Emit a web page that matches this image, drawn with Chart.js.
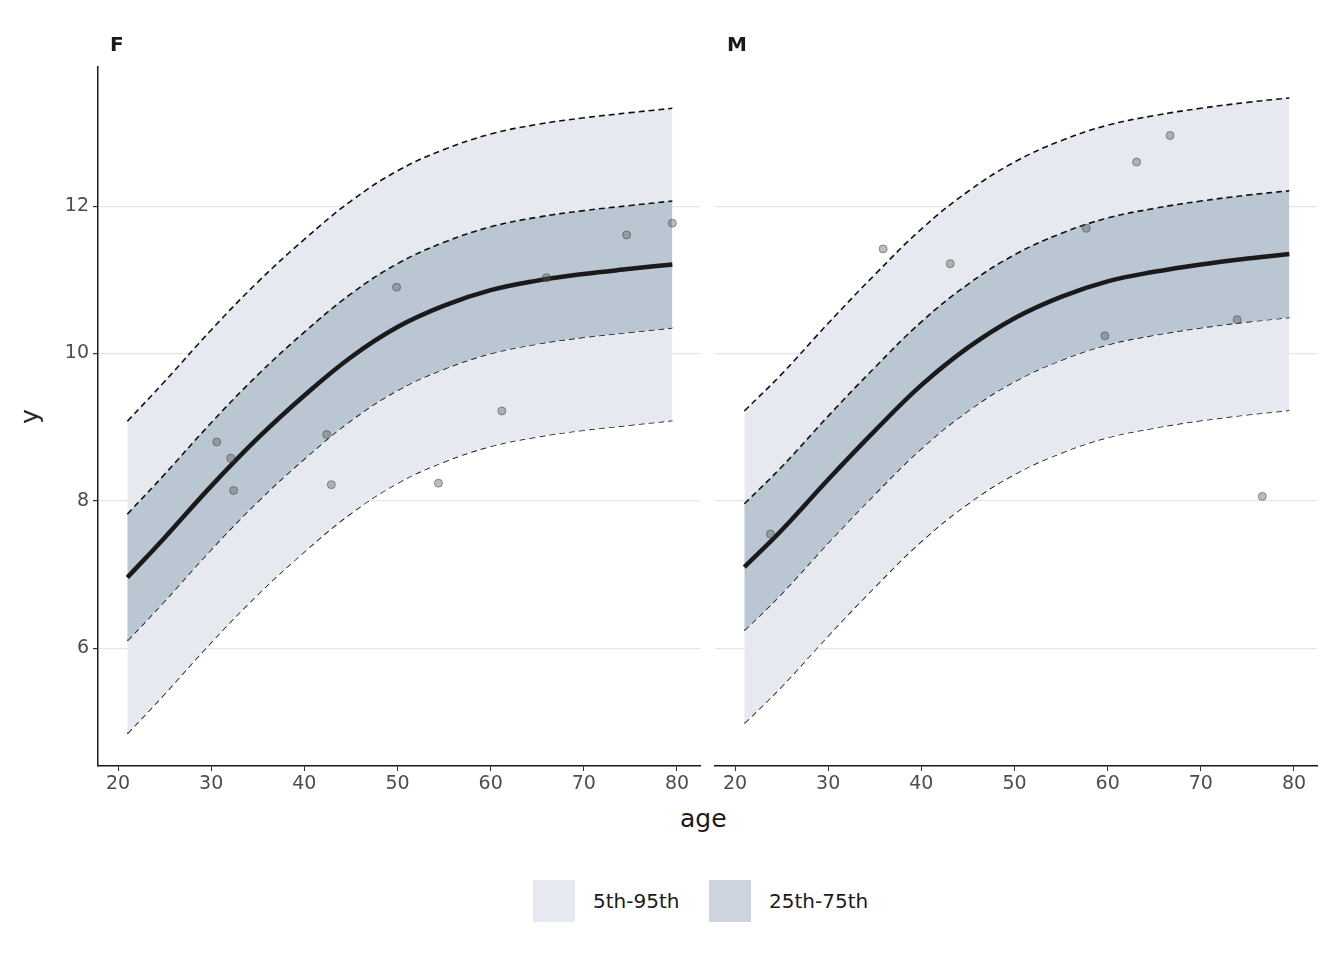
<!DOCTYPE html>
<html><head><meta charset="utf-8">
<script src="https://cdn.jsdelivr.net/npm/chart.js@4/dist/chart.umd.min.js"></script>
<style>
body{margin:0;width:1344px;height:960px;background:#fff;font-family:"DejaVu Sans",sans-serif;position:relative;overflow:hidden}
.t{position:absolute;font-weight:bold;font-size:20px;color:#1a1a1a}
.leg{position:absolute;top:880px;height:42px;display:flex;align-items:center;font-size:20px;color:#1a1a1a}
.sw{width:42px;height:42px;display:inline-block;margin-right:18px}
</style></head><body>
<div style="position:absolute;left:0;top:0;width:705px;height:800px"><canvas id="cF"></canvas></div>
<div style="position:absolute;left:710px;top:0;width:634px;height:800px"><canvas id="cM"></canvas></div>
<div class="t" style="left:110px;top:32px">F</div>
<div class="t" style="left:727px;top:32px">M</div>
<div style="position:absolute;left:680px;top:804px;font-size:25px;color:#1a1a1a">age</div>
<div style="position:absolute;left:22px;top:402px;font-size:25px;color:#1a1a1a;transform:rotate(-90deg);transform-origin:center">y</div>
<div class="leg" style="left:533px"><span class="sw" style="background:#e6e9ef"></span>5th-95th</div>
<div class="leg" style="left:709px"><span class="sw" style="background:#cdd4de"></span>25th-75th</div>
<script>
const ages = [21,25,30,35,40,45,50,55,60,65,70,75,79.5];
const xTicks = [20,30,40,50,60,70,80];
const yTicks = [6,8,10,12];
// Female
const F_q05 = [4.84,5.38,6.08,6.73,7.31,7.83,8.24,8.53,8.74,8.87,8.96,9.03,9.09];
const F_q25 = [6.10,6.64,7.34,7.99,8.57,9.09,9.50,9.79,10.00,10.13,10.22,10.29,10.35];
const F_q50 = [6.96,7.50,8.20,8.85,9.43,9.95,10.36,10.65,10.86,10.99,11.08,11.15,11.21];
const F_q75 = [7.82,8.36,9.06,9.71,10.29,10.81,11.22,11.51,11.72,11.85,11.94,12.01,12.07];
const F_q95 = [9.08,9.62,10.32,10.97,11.55,12.07,12.48,12.77,12.98,13.11,13.20,13.27,13.33];
const F_px = [30.6,32.1,32.4,42.4,42.9,49.9,54.4,61.2,66.0,74.6,79.5];
const F_py = [8.80,8.58,8.14,8.90,8.22,10.90,8.24,9.22,11.03,11.61,11.77];
// Male
const M_q05 = [4.98,5.48,6.17,6.83,7.45,7.96,8.36,8.65,8.86,8.99,9.09,9.17,9.23];
const M_q25 = [6.24,6.74,7.43,8.09,8.71,9.22,9.62,9.91,10.12,10.25,10.35,10.43,10.49];
const M_q50 = [7.10,7.60,8.29,8.95,9.57,10.08,10.48,10.77,10.98,11.11,11.21,11.29,11.35];
const M_q75 = [7.96,8.46,9.15,9.81,10.43,10.94,11.34,11.63,11.84,11.97,12.07,12.15,12.21];
const M_q95 = [9.22,9.72,10.41,11.07,11.69,12.20,12.60,12.89,13.10,13.23,13.33,13.41,13.47];
const M_px = [23.8,35.9,43.1,57.7,59.7,63.1,66.7,73.9,76.6];
const M_py = [7.55,11.42,11.22,11.70,10.24,12.60,12.96,10.46,8.06];

const pts = (xs,ys)=>xs.map((x,i)=>({x,y:ys[i]}));
function make(id,q05,q25,q50,q75,q95,px,py,left){
  const dash={borderColor:'#111',borderWidth:1.6,borderDash:[6,4],pointRadius:0,tension:0.4};
  new Chart(document.getElementById(id),{
    type:'line',
    data:{datasets:[
      {type:'scatter',data:pts(px,py),pointRadius:4,backgroundColor:'rgba(90,90,90,0.4)',borderColor:'rgba(60,60,60,0.5)',borderWidth:1},
      {data:pts(ages,q50),borderColor:'#1a1a1a',borderWidth:4.5,pointRadius:0,fill:false,tension:0.4},
      {...dash,data:pts(ages,q75),fill:'+1',backgroundColor:'#bac6d1'},
      {...dash,data:pts(ages,q25),fill:false},
      {...dash,data:pts(ages,q95),fill:'+1',backgroundColor:'#e6e9ef'},
      {...dash,data:pts(ages,q05),fill:false}
    ]},
    options:{responsive:false,animation:false,devicePixelRatio:1,
      layout:{padding:{top:67,right:left?0:27,left:0,bottom:0}},
      plugins:{legend:{display:false},tooltip:{enabled:false}},
      scales:{
        x:{type:'linear',min:17.85,max:82.47,
          afterBuildTicks:s=>{s.ticks=xTicks.map(v=>({value:v}))},
          afterFit:s=>{s.height=34},
          grid:{drawOnChartArea:false,tickLength:5,color:'#333',tickColor:'#333'},
          border:{display:true,color:'#1a1a1a',width:1.5},
          ticks:{color:'#4d4d4d',font:{size:19,family:'DejaVu Sans'},padding:2,maxRotation:0}},
        y:{type:'linear',min:4.40,max:13.89,
          afterBuildTicks:s=>{s.ticks=yTicks.map(v=>({value:v}))},
          afterFit:s=>{s.width=left?98:0},
          grid:{color:'#e5e5e5',lineWidth:1.2,tickColor:left?'#333':'rgba(0,0,0,0)',tickLength:left?5:0},
          border:{display:left,color:'#1a1a1a',width:1.5},
          ticks:{display:left,color:'#4d4d4d',font:{size:19,family:'DejaVu Sans'},padding:4}}
      }}
  });
}
const cf=document.getElementById('cF');cf.width=705;cf.height=800;
const cm=document.getElementById('cM');cm.width=634;cm.height=800;
make('cF',F_q05,F_q25,F_q50,F_q75,F_q95,F_px,F_py,true);
make('cM',M_q05,M_q25,M_q50,M_q75,M_q95,M_px,M_py,false);
</script></body></html>
